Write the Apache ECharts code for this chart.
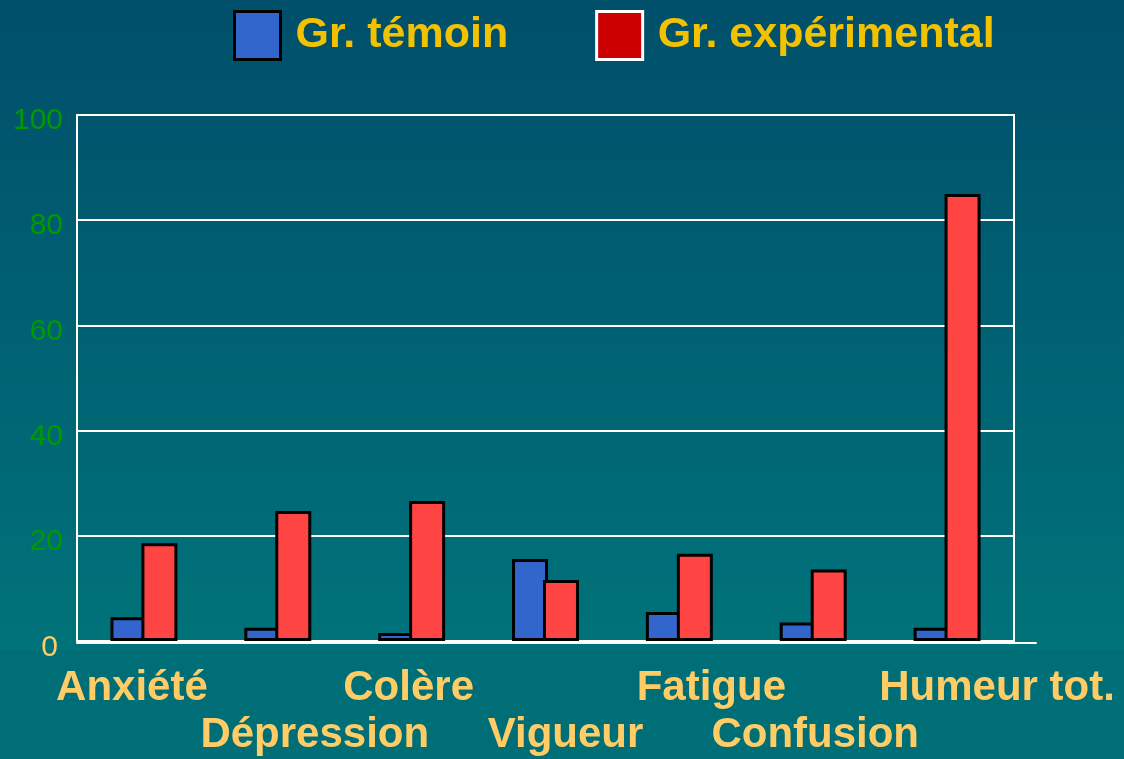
<!DOCTYPE html>
<html><head><meta charset="utf-8">
<script src="https://cdn.jsdelivr.net/npm/echarts@6/dist/echarts.min.js"></script>
<style>
html,body{margin:0;padding:0;}
body{width:1124px;height:759px;background:linear-gradient(to bottom,#004f6b 0px,#00737a 650px,#006e77 650px,#006e77 759px);}
#c{width:1124px;height:759px;}
</style></head>
<body><div id="c"></div>
<script>
const categories = ['Anxiété','Dépression','Colère','Vigueur','Fatigue','Confusion','Humeur tot.'];
const temoin = [4.5, 2.5, 1.5, 15.6, 5.5, 3.5, 2.5];
const experimental = [18.6, 24.7, 26.6, 11.6, 16.6, 13.6, 85];
const seriesNames = ['Gr. témoin','Gr. expérimental'];
const yTicks = {min:0, max:100, interval:20};

// label horizontal shifts and row (0 = upper, 1 = lower)
const labelShift = [-12, 37, -3, 20, 32, 2, 50];

const catData = categories.map((c,i)=>{
  const s = labelShift[i];
  const row = i % 2;
  return {value:c, textStyle:{padding:[row?47:0, s<0?-2*s:0, 0, s>0?2*s:0]}};
});

const chart = echarts.init(document.getElementById('c'));
chart.setOption({
  backgroundColor:'transparent',
  animation:false,
  legend:{
    top:5, left:228, itemWidth:46, itemHeight:48, itemGap:87, icon:'rect',
    textStyle:{color:'#f2c200', fontSize:43, fontWeight:'bold', fontFamily:'Liberation Sans, Arial', padding:[0,0,0,10]},
    data:[
      {name:seriesNames[0], itemStyle:{color:'#3366cc', borderColor:'#000', borderWidth:3}},
      {name:seriesNames[1], itemStyle:{color:'#cc0000', borderColor:'#fff', borderWidth:3}}
    ]
  },
  grid:[
    {left:77, right:110, top:115, bottom:116, show:true, borderColor:'#ffffff', borderWidth:2},
    {left:77, right:88, top:115, bottom:116}
  ],
  xAxis:[
    {type:'category', data:catData, gridIndex:0,
     axisLine:{show:true, lineStyle:{color:'#fff', width:2}},
     axisTick:{show:false},
     axisLabel:{interval:0, margin:23, color:'#ffcc66', fontSize:42, fontWeight:'bold', fontFamily:'Liberation Sans, Arial', lineHeight:48}
    },
    {type:'value', gridIndex:1, min:0, max:1,
     axisLine:{show:true, lineStyle:{color:'#fff', width:2}},
     axisTick:{show:false}, axisLabel:{show:false}, splitLine:{show:false}}
  ],
  yAxis:[
    {type:'value', gridIndex:0, min:yTicks.min, max:yTicks.max, interval:yTicks.interval,
     axisLine:{show:true, lineStyle:{color:'#fff', width:2}},
     axisTick:{show:false},
     splitLine:{show:true, lineStyle:{color:'#fff', width:2}},
     axisLabel:{margin:14, fontSize:30, fontFamily:'Liberation Sans, Arial', color:'#009900', padding:[12,0,0,0],
       formatter:function(v){ return v===0 ? '{z|0}' : String(v); },
       rich:{z:{color:'#ffcc66', fontSize:30, fontFamily:'Liberation Sans, Arial', padding:[2,5,0,0]}}
     }
    },
    {type:'value', gridIndex:1, show:false}
  ],
  series:[
    {name:seriesNames[0], type:'bar', xAxisIndex:0, yAxisIndex:0, data:temoin, barWidth:36, barGap:'-14%',
     itemStyle:{color:'#3366cc', borderColor:'#000', borderWidth:3}},
    {name:seriesNames[1], type:'bar', xAxisIndex:0, yAxisIndex:0, data:experimental, barWidth:36, barGap:'-14%',
     itemStyle:{color:'#ff4444', borderColor:'#000', borderWidth:3}}
  ]
});
</script></body></html>
